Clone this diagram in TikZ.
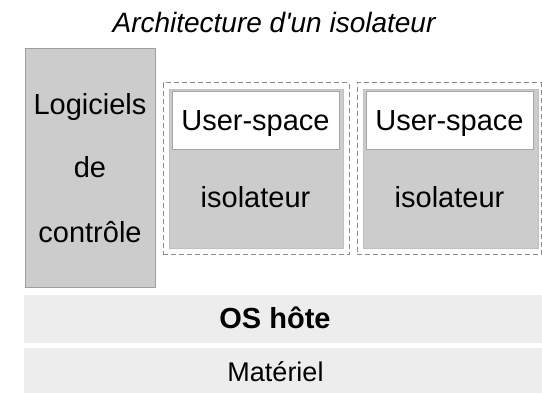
\documentclass[tikz,border=0pt]{standalone}
\usepackage{fontspec}
\setmainfont{Liberation Sans}
\begin{document}
\begin{tikzpicture}[x=1pt,y=-1pt,
  every node/.style={inner sep=0pt, outer sep=0pt},
  lbl/.style={anchor=base, font=\fontsize{29pt}{34pt}\selectfont},
  ctrlbox/.style={draw=black!38, fill=black!20, line width=1pt},
  isobox/.style={draw=black!45, dashed, dash pattern=on 5pt off 3pt, line width=1pt, fill=white},
  innerbox/.style={draw=black!25, fill=black!20, line width=1pt},
  userbox/.style={draw=black!35, fill=white, line width=1pt},
  layer/.style={fill=black!7}
]
  \useasboundingbox (0,0) rectangle (542,393);

  % title
  \node[lbl, font=\fontsize{28pt}{33pt}\selectfont\itshape] (title) at (274,33) {Architecture d\textquotesingle un isolateur};

  % control software column
  \node[ctrlbox, minimum width=130pt, minimum height=239pt] (ctrl) at (90,168.5) {};
  \node[lbl] (ctrl1) at (90,115) {Logiciels};
  \node[lbl] (ctrl2) at (90,178) {de};
  \node[lbl] (ctrl3) at (90,243) {contrôle};

  % first isolator
  \node[isobox, minimum width=186pt, minimum height=172pt] (isoA) at (256,169) {};
  \node[innerbox, minimum width=174pt, minimum height=159pt] (isoAin) at (256,169.5) {};
  \node[userbox, minimum width=167pt, minimum height=58pt] (usrA) at (255.5,121) {};
  \node[lbl] (usrAtxt) at (255.5,131) {User-space};
  \node[lbl] (isoAtxt) at (255.5,208) {isolateur};

  % second isolator
  \node[isobox, minimum width=184pt, minimum height=172pt] (isoB) at (449,169) {};
  \node[innerbox, minimum width=175pt, minimum height=159pt] (isoBin) at (450.5,169.5) {};
  \node[userbox, minimum width=167pt, minimum height=58pt] (usrB) at (449.5,121) {};
  \node[lbl] (usrBtxt) at (449.5,131) {User-space};
  \node[lbl] (isoBtxt) at (449.5,208) {isolateur};

  % host OS and hardware layers
  \node[layer, minimum width=518pt, minimum height=48pt] (os) at (283,319) {};
  \node[lbl, font=\fontsize{29pt}{34pt}\selectfont\bfseries] (ostxt) at (275,329) {OS hôte};
  \node[layer, minimum width=518pt, minimum height=45pt] (hw) at (283,370.5) {};
  \node[lbl, font=\fontsize{27pt}{32pt}\selectfont] (hwtxt) at (275.5,382) {Matériel};
\end{tikzpicture}
\end{document}
